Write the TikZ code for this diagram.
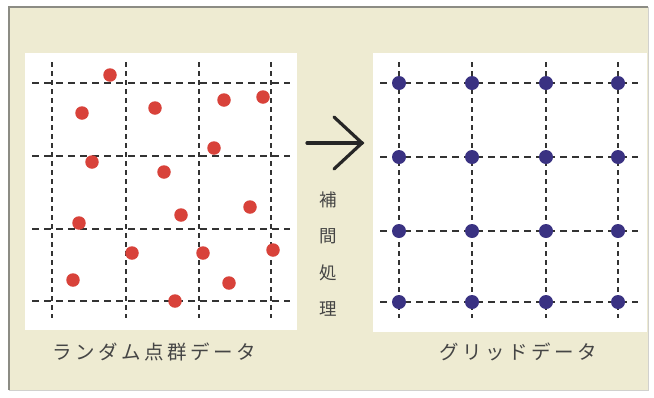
\documentclass[tikz,border=0pt]{standalone}
\usepackage{fontspec}
\newfontfamily\jpfont{Noto Sans CJK JP}
\newfontfamily\jpspaced[LetterSpace=18]{Noto Sans CJK JP}
\definecolor{beige}{HTML}{EEEBD2}
\definecolor{framegray}{HTML}{8C8C84}
\definecolor{dotred}{HTML}{D8423A}
\definecolor{dotblue}{HTML}{3A3282}
\definecolor{txtgray}{HTML}{454545}
\tikzset{
  gridh/.style={line width=1.8pt, draw=black!80, dash pattern=on 7pt off 5pt},
  gridv/.style={line width=1.8pt, draw=black!80, dash pattern=on 5pt off 4pt},
  reddot/.style={circle, fill=dotred, inner sep=0pt, minimum size=13.5pt},
  bluedot/.style={circle, fill=dotblue, inner sep=0pt, minimum size=14pt},
  panel/.style={fill=white, draw=none},
  label/.style={font=\jpspaced\fontsize{19.5}{19.5}\selectfont, text=txtgray},
  vlabel/.style={font=\jpfont\fontsize{17.5}{17.5}\selectfont, text=txtgray}
}
\begin{document}
\begin{tikzpicture}[x=1pt,y=-1pt]
\useasboundingbox (0,0) rectangle (654,397);
\fill[white] (0,0) rectangle (654,397);
\fill[beige] (9,7) rectangle (648,390);
\draw[framegray, line width=1.2pt] (9,390) -- (9,7) -- (648,7);
\draw[framegray!40, line width=0.8pt] (648,7) -- (648,390) -- (9,390);
% panels
\fill[panel] (25,53) rectangle (297,330);
\fill[panel] (373,53) rectangle (647,332);
% left grid
\foreach \x in {52,126,199,271} \draw[gridv] (\x,62) -- (\x,318);
\foreach \y in {83,156,229,301} \draw[gridh] (32,\y) -- (290,\y);
% red dots
\foreach \p [count=\i] in {(110,75),(82,113),(155,108),(224,100),(263,97),(214,148),(92,162),(164,172),(181,215),(250,207),(79,223),(132,253),(203,253),(273,250),(73,280),(229,283),(175,301)}
  \node[reddot] (r\i) at \p {};
% right grid
\foreach \x in {399,472,546,618} \draw[gridv] (\x,62) -- (\x,318);
\foreach \y in {83,157,231,302} \draw[gridh] (380,\y) -- (638,\y);
\foreach \x [count=\i] in {399,472,546,618}
  \foreach \y [count=\j] in {83,157,231,302}
    \node[bluedot] (b\i\j) at (\x,\y) {};
% arrow
\coordinate (as) at (307,143);
\coordinate (at) at (362,143);
\coordinate (au) at (334,117);
\coordinate (ad) at (334,169);
\draw[line width=3.2pt, black!85, line cap=round] (as) -- (at);
\draw[line width=3.2pt, black!85, line cap=round, line join=miter] (au) -- (at) -- (ad);
% vertical label
\node[vlabel] (v1) at (328,200) {補};
\node[vlabel] (v2) at (328,236) {間};
\node[vlabel] (v3) at (328,273) {処};
\node[vlabel] (v4) at (328,309) {理};
% bottom labels
\node[label] (l1) at (154,352) {ランダム点群データ};
\node[label] (l2) at (518,352) {グリッドデータ};
\end{tikzpicture}
\end{document}
